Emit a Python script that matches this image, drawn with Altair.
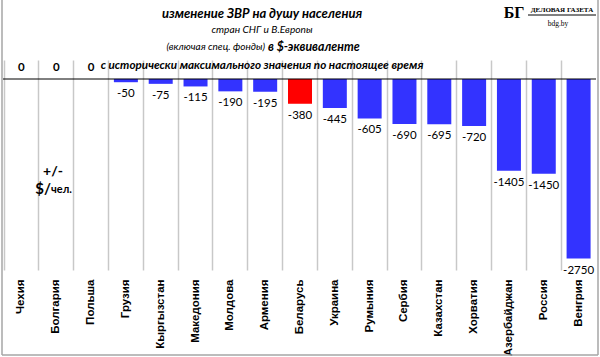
import altair as alt
import pandas as pd

countries = ["Чехия", "Болгария", "Польша", "Грузия", "Кыргызстан", "Македония",
             "Молдова", "Армения", "Беларусь", "Украина", "Румыния", "Сербия",
             "Казахстан", "Хорватия", "Азербайджан", "Россия", "Венгрия"]
values = [0, 0, 0, -50, -75, -115, -190, -195, -380, -445, -605, -690, -695,
          -720, -1405, -1450, -2750]
highlight = "Беларусь"

title1 = "изменение ЗВР на душу населения"
title2 = "стран СНГ и В.Европы"
title3a = "(включая  спец. фонды)"
title3b = "в $-эквиваленте"
title4 = "с исторически максимального значения по настоящее время"
unit1 = "+/-"
unit2a = "$/"
unit2b = "чел."
logo1 = "БГ"
logo2 = "ДЕЛОВАЯ ГАЗЕТА"
logo3 = "bdg.by"

df = pd.DataFrame({"country": countries, "value": values})
one = pd.DataFrame({"k": [0]})

x = alt.X("country:N", sort=countries, title=None,
          scale=alt.Scale(paddingInner=0, paddingOuter=0),
          axis=alt.Axis(labelAngle=270, labelAlign="right", labelBaseline="middle",
                        labelPadding=9, labelFont="Liberation Sans",
                        labelFontWeight="bold", labelFontSize=11.5, labelColor="#000000",
                        ticks=False, domain=False, grid=True, gridColor="#C8C8C8",
                        gridWidth=1.5, bandPosition=0))
y = alt.Y("value:Q", scale=alt.Scale(domain=[-2925, 290], nice=False), axis=None)


def hrule(x1, x2, yv, color="#A6A6A6", w=1.5):
    return alt.Chart(one).mark_rule(color=color, strokeWidth=w).encode(
        x=alt.value(x1), x2=alt.value(x2), y=alt.value(yv))


def vrule(xv, y1, y2, color="#A6A6A6", w=1.5):
    return alt.Chart(one).mark_rule(color=color, strokeWidth=w).encode(
        x=alt.value(xv), y=alt.value(y1), y2=alt.value(y2))


frame = [vrule(-2, -60, 295), vrule(594, -60, 295), hrule(-2, 594, 295)]

bars = alt.Chart(df).mark_bar(width=24).encode(
    x=x, y=y,
    color=alt.condition(alt.datum.country == highlight, alt.value("#FF0000"),
                        alt.value("#3333FF")))

zero_rule = alt.Chart(one).mark_rule(color="#000000", strokeWidth=1).encode(
    x=alt.value(-1), x2=alt.value(592), y=alt.value(19))

neg_labels = alt.Chart(df).transform_filter("datum.value < 0").transform_calculate(
    lbl="toString(datum.value)").mark_text(
    font="Lato", fontSize=11.5, dy=12, baseline="middle", color="#000000").encode(
    x=x, y=y, text="lbl:N")
zero_labels = alt.Chart(df).transform_filter("datum.value == 0").transform_calculate(
    lbl="toString(datum.value)").mark_text(
    font="Lato", fontSize=11.5, fontWeight="bold", dy=-11, baseline="middle",
    color="#000000").encode(x=x, y=y, text="lbl:N")


def txt(s, px, py, size, weight="normal", style="normal", align="center",
        font="Lato"):
    return alt.Chart(one).mark_text(
        text=s, font=font, fontSize=size, fontWeight=weight, fontStyle=style,
        align=align, baseline="middle", color="#000000").encode(
        x=alt.value(px), y=alt.value(py))


texts = [
    txt(title1, 258, -46, 13, "bold", "italic"),
    txt(title2, 258, -30, 10.2, "normal", "italic"),
    txt(title3a, 261, -13, 10, "normal", "italic", align="right"),
    txt(title3b, 264, -13, 12.3, "bold", "italic", align="left"),
    txt(title4, 258, 5, 11.7, "bold", "italic"),
    txt(unit1, 49, 112, 14, "bold"),
    txt(unit2a, 47, 129, 15, "bold", align="right"),
    txt(unit2b, 47, 130, 11, "bold", align="left"),
    txt(logo1, 510, -47, 16, "bold", font="Liberation Serif"),
    txt(logo2, 558, -50, 7, "bold", font="Liberation Serif"),
    txt(logo3, 554, -36, 7.5, "normal", font="Liberation Serif"),
]
logo_line = hrule(524, 592, -45, color="#000000", w=1)

chart = alt.layer(*frame, bars, zero_rule, neg_labels, zero_labels, logo_line, *texts).properties(
    width=592, height=210,
    padding={"left": 4, "top": 60, "right": 4, "bottom": 87},
    autosize=alt.AutoSizeParams(type="none"),
    background="white",
).configure_view(stroke=None)

chart.save("out.html", embed_options={"renderer": "svg", "actions": False})
